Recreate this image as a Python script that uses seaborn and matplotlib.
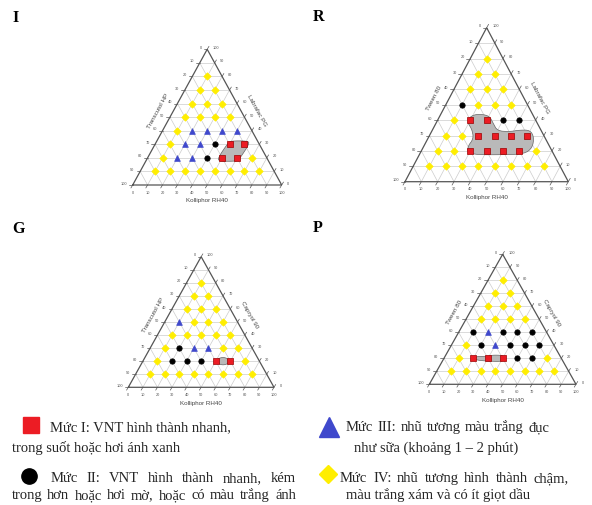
import numpy as np
import pandas as pd
import matplotlib
matplotlib.use("Agg")
import matplotlib.pyplot as plt
import seaborn as sns
from matplotlib.patches import Polygon

sns.set_theme(style="white")
plt.rcParams['font.family'] = ['Liberation Sans', 'DejaVu Sans']

# compositions on the grid: Kolliphor RH40 (%) and oil (%), row by row from oil = 10 up
GRID_KOL = [10, 20, 30, 40, 50, 60, 70, 80,
            10, 20, 30, 40, 50, 60, 70,
            10, 20, 30, 40, 50, 60,
            10, 20, 30, 40, 50,
            10, 20, 30, 40,
            10, 20, 30,
            10, 20,
            10]
GRID_OIL = [10, 10, 10, 10, 10, 10, 10, 10,
            20, 20, 20, 20, 20, 20, 20,
            30, 30, 30, 30, 30, 30,
            40, 40, 40, 40, 40,
            50, 50, 50, 50,
            60, 60, 60,
            70, 70,
            80]

# emulsification grade of each grid point, same order as above
LEVELS_I = ["IV", "IV", "IV", "IV", "IV", "IV", "IV", "IV",
            "IV", "III", "III", "II", "I", "I", "IV",
            "IV", "III", "III", "II", "I", "I",
            "IV", "III", "III", "III", "III",
            "IV", "IV", "IV", "IV",
            "IV", "IV", "IV",
            "IV", "IV",
            "IV"]
LEVELS_R = ["IV", "IV", "IV", "IV", "IV", "IV", "IV", "IV",
            "IV", "IV", "I", "I", "I", "I", "IV",
            "IV", "IV", "I", "I", "I", "I",
            "IV", "I", "I", "II", "II",
            "II", "IV", "IV", "IV",
            "IV", "IV", "IV",
            "IV", "IV",
            "IV"]
LEVELS_G = ["IV", "IV", "IV", "IV", "IV", "IV", "IV", "IV",
            "IV", "II", "II", "II", "I", "I", "IV",
            "IV", "II", "III", "III", "IV", "IV",
            "IV", "IV", "IV", "IV", "IV",
            "III", "IV", "IV", "IV",
            "IV", "IV", "IV",
            "IV", "IV",
            "IV"]
LEVELS_P = ["IV", "IV", "IV", "IV", "IV", "IV", "IV", "IV",
            "IV", "I", "I", "I", "II", "II", "IV",
            "IV", "II", "III", "II", "II", "II",
            "II", "III", "II", "II", "II",
            "IV", "IV", "IV", "IV",
            "IV", "IV", "IV",
            "IV", "IV",
            "IV"]

# outline of the shaded nano-emulsion region (Kolliphor %, oil %)
REGION_I_KOL = [47.2, 49.8, 61.2, 62.0, 63.2, 60.8, 49.8, 48.5]
REGION_I_OIL = [19.5, 17.5, 17.5, 19.0, 30.5, 32.5, 32.5, 31.0]
REGION_R_KOL = [18.5, 22.0, 30.0, 35.0, 40.0, 48.0, 53.2, 59.8, 64.5,
                67.0, 64.0, 51.2, 35.2, 29.0, 27.0, 28.0, 24.0, 19.5]
REGION_R_OIL = [42.0, 44.0, 43.0, 38.0, 33.0, 32.5, 33.5, 33.5, 29.0,
                22.0, 18.0, 17.5, 17.5, 19.0, 23.0, 28.0, 34.0, 38.0]
REGION_G_KOL = [59.4, 57.0, 53.5, 50.8, 50.6, 53.0, 56.5, 59.2]
REGION_G_OIL = [20.0, 22.1, 23.0, 22.1, 20.0, 17.9, 17.0, 17.9]
REGION_P_KOL = [20.8, 22.2, 29.2, 31.8, 38.8, 41.5, 41.2, 31.1, 23.8, 21.2]
REGION_P_OIL = [20.5, 21.5, 21.5, 22.5, 22.3, 20.0, 17.5, 17.8, 18.5, 19.5]

TICKS = [0, 10, 20, 30, 40, 50, 60, 70, 80, 90, 100]

COLORS = {"I": "#ec1c24", "II": "#000000", "III": "#3f48cc", "IV": "#ffee00"}
MARKERS = {"I": "s", "II": "o", "III": "^", "IV": "D"}
SIZES = {"I": 14, "II": 15, "III": 17, "IV": 14}
EDGES = {"I": "#9a0000", "II": "#000000", "III": "#3f48cc", "IV": "#ffee00"}

W, H = 592, 505
fig = plt.figure(figsize=(W / 100, H / 100), dpi=100)

# overlay in pixel coordinates for panel letters and the legend
ov = fig.add_axes([0, 0, 1, 1])
ov.set_xlim(0, W)
ov.set_ylim(H, 0)
ov.axis("off")


def tern(kol, oil):
    kol = np.asarray(kol, dtype=float)
    oil = np.asarray(oil, dtype=float)
    return kol + oil / 2, oil


def smooth_closed(x, y, iters=2):
    pts = np.column_stack([x, y])
    for _ in range(iters):
        nxt = np.roll(pts, -1, axis=0)
        q = 0.75 * pts + 0.25 * nxt
        r = 0.25 * pts + 0.75 * nxt
        new = np.empty((2 * len(pts), 2))
        new[0::2] = q
        new[1::2] = r
        pts = new
    return pts


def draw_panel(rect_px, left_title, right_title, levels, reg_kol, reg_oil):
    x0, x1, ytop, ybot = rect_px
    ax = fig.add_axes([x0 / W, 1 - ybot / H, (x1 - x0) / W, (ybot - ytop) / H])
    ax.set_xlim(0, 100)
    ax.set_ylim(0, 100)
    ax.axis("off")

    # grid
    for v in TICKS[1:-1]:
        gx, gy = tern([0, 100 - v], [v, v])
        ax.plot(gx, gy, color="#cccccc", lw=0.5, zorder=1)
        gx, gy = tern([v, v], [0, 100 - v])
        ax.plot(gx, gy, color="#cccccc", lw=0.5, zorder=1)
        gx, gy = tern([100 - v, 0], [0, 100 - v])
        ax.plot(gx, gy, color="#cccccc", lw=0.5, zorder=1)

    # frame
    fx, fy = tern([0, 100, 0, 0], [0, 0, 100, 0])
    ax.plot(fx, fy, color="#555555", lw=0.9, zorder=3, clip_on=False,
            solid_joinstyle="miter")

    # ticks and tick labels
    for v in TICKS:
        bx, by = tern(v, 0)
        ax.plot([bx, bx - 1.2], [by, by - 2.2], color="#555555", lw=0.5, clip_on=False)
        ax.annotate(str(v), (bx, by), xytext=(0, -4), textcoords="offset points",
                    ha="center", va="top", fontsize=2.8, color="#555555")
        lx, ly = tern(0, 100 - v)
        ax.plot([lx, lx - 2.4], [ly, ly], color="#555555", lw=0.5, clip_on=False)
        ax.annotate(str(v), (lx, ly), xytext=(-4, 1), textcoords="offset points",
                    ha="right", va="center", fontsize=2.8, color="#555555")
        rx, ry = tern(100 - v, v)
        ax.plot([rx, rx + 1.2], [ry, ry + 2.2], color="#555555", lw=0.5, clip_on=False)
        ax.annotate(str(v), (rx, ry), xytext=(4, 1), textcoords="offset points",
                    ha="left", va="center", fontsize=2.8, color="#555555")

    # axis titles
    p0 = ax.transData.transform((0, 0))
    p1 = ax.transData.transform((50, 100))
    ang = np.degrees(np.arctan2(p1[1] - p0[1], p1[0] - p0[0]))
    nrm = np.array([-np.sin(np.radians(ang)), np.cos(np.radians(ang))])
    off = nrm * 13 / 1.389
    ax.annotate(left_title, (25, 50), xytext=tuple(off), textcoords="offset points",
                ha="center", va="center", rotation=ang, fontsize=4.5, color="#444444")
    off = np.array([-nrm[0], nrm[1]]) * 14 / 1.389
    ax.annotate(right_title, (75, 50), xytext=tuple(off), textcoords="offset points",
                ha="center", va="center", rotation=-ang, fontsize=4.5, color="#444444")
    ax.annotate("Kolliphor RH40", (50, 0), xytext=(0, -11.5), textcoords="offset points",
                ha="center", va="center", fontsize=4.5, color="#444444")

    # shaded region
    rx_, ry_ = tern(reg_kol, reg_oil)
    pts = smooth_closed(rx_, ry_)
    ax.add_patch(Polygon(pts, closed=True, facecolor="#b9b9b9", edgecolor="#666666",
                         lw=0.5, zorder=2))

    # points
    px, py = tern(GRID_KOL, GRID_OIL)
    df = pd.DataFrame({"x": px, "y": py, "level": levels})
    for lvl in ["IV", "III", "II", "I"]:
        sub = df[df["level"] == lvl]
        if len(sub) == 0:
            continue
        sns.scatterplot(data=sub, x="x", y="y", marker=MARKERS[lvl], color=COLORS[lvl],
                        s=SIZES[lvl], edgecolor=EDGES[lvl], linewidth=0.5,
                        ax=ax, legend=False, zorder=4, clip_on=False)
    ax.set_xlabel("")
    ax.set_ylabel("")
    ax.set_xlim(0, 100)
    ax.set_ylim(0, 100)
    return ax


draw_panel((132.7, 281.7, 49.3, 185.0), "Transcutol HP", "Labrafac PG",
           LEVELS_I, REGION_I_KOL, REGION_I_OIL)
draw_panel((405.0, 568.3, 27.7, 181.7), "Tween 80", "Labrafac PG",
           LEVELS_R, REGION_R_KOL, REGION_R_OIL)
draw_panel((128.3, 274.0, 256.7, 387.3), "Transcutol HP", "Capryol 90",
           LEVELS_G, REGION_G_KOL, REGION_G_OIL)
draw_panel((429.3, 576.0, 254.3, 384.3), "Tween 80", "Capryol 90",
           LEVELS_P, REGION_P_KOL, REGION_P_OIL)

# panel letters
serif = ['Liberation Serif', 'DejaVu Serif']
for letter, lx, ly in [("I", 12.5, 22), ("R", 313, 21), ("G", 12.5, 233), ("P", 313, 232)]:
    ov.text(lx, ly, letter, fontsize=11.5, fontweight="bold", family=serif,
            ha="left", va="baseline", color="black")

# legend
renderer = fig.canvas.get_renderer()


def put_line(text, x_start, y, x_end=None, size=10.5):
    if x_end is None:
        ov.text(x_start, y, text, fontsize=size, family=serif, ha="left", va="baseline")
        return
    words = text.split(" ")
    arts = [ov.text(0, y, w, fontsize=size, family=serif, ha="left", va="baseline")
            for w in words]
    inv = ov.transData.inverted()
    widths = []
    for a in arts:
        bb = a.get_window_extent(renderer)
        a0 = inv.transform((bb.x0, bb.y0))
        a1 = inv.transform((bb.x1, bb.y1))
        widths.append(a1[0] - a0[0])
    gap = (x_end - x_start - sum(widths)) / max(len(words) - 1, 1)
    x = x_start
    for a, w in zip(arts, widths):
        a.set_x(x)
        x += w + gap


ov.plot(31, 424.5, marker="s", ms=12, color="#ec1c24", linestyle="none")
ov.plot(28.5, 476, marker="o", ms=11, color="black", linestyle="none")
ov.plot(329, 427, marker="^", ms=15, color="#3f48cc", linestyle="none")
ov.plot(328, 474, marker="D", ms=9.5, color="#ffee00", linestyle="none")

put_line("Mức I: VNT hình thành nhanh,", 50, 431)
put_line("trong suốt hoặc hơi ánh xanh", 11.5, 452)
put_line("Mức II: VNT hình thành nhanh, kém", 50.5, 482, 296)
put_line("trong hơn hoặc hơi mờ, hoặc có màu trắng ánh", 11.5, 499, 296)
put_line("Mức III: nhũ tương màu trắng đục", 346, 431, 549)
put_line("như sữa (khoảng 1 – 2 phút)", 354, 452)
put_line("Mức IV: nhũ tương hình thành chậm,", 340, 482, 569)
put_line("màu trắng xám và có ít giọt dầu", 346, 499)

fig.savefig("out.png", dpi=100)
